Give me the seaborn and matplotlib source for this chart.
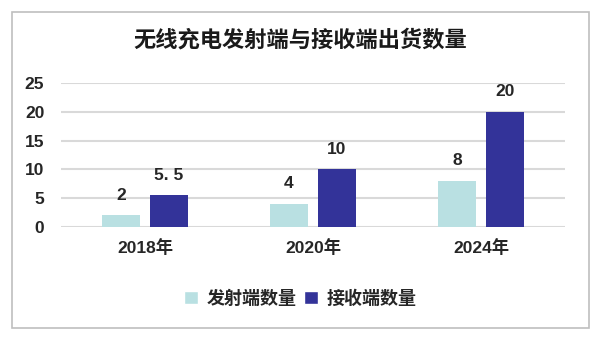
import matplotlib
matplotlib.use("Agg")
import matplotlib.pyplot as plt
import seaborn as sns
import pandas as pd
from matplotlib.patches import Rectangle, Patch

years = ["2018年", "2020年", "2024年"]
series = ["发射端数量", "接收端数量"]
transmit = [2, 4, 8]
receive = [5.5, 10, 20]
labels_t = ["2", "4", "8"]
labels_r = ["5. 5", "10", "20"]
colors = ["#b9e0e2", "#333399"]

df = pd.DataFrame({
    "year": years * 2,
    "series": [series[0]] * 3 + [series[1]] * 3,
    "value": transmit + receive,
})

sns.set_theme(style="white")
plt.rcParams['font.family'] = ['Noto Sans CJK SC', 'DejaVu Sans']

fig = plt.figure(figsize=(6.01, 3.40), dpi=100)
fig.patches.append(Rectangle((12/601, 12/340), 577/601, 316/340, transform=fig.transFigure,
                             fill=False, edgecolor="#bfbfbf", linewidth=1.2))
ax = fig.add_axes([61/601, 1-227/340, 504/601, 144/340])

sns.barplot(data=df, x="year", y="value", hue="series", palette=colors,
            width=0.57, gap=0.2, ax=ax, legend=False, saturation=1, linewidth=0)

ax.set_ylim(0, 25)
ax.set_xlim(-0.5, 2.5)
ax.set_yticks([0, 5, 10, 15, 20, 25])
ax.yaxis.grid(True, color="#d9d9d9", linewidth=1.5)
ax.set_axisbelow(True)
for s in ax.spines.values():
    s.set_visible(False)
ax.set_xlabel("")
ax.set_ylabel("")
ax.tick_params(axis="y", length=0, pad=12, labelsize=12.5)
ax.tick_params(axis="x", length=0, pad=9, labelsize=12.5)
for lab in ax.get_yticklabels():
    lab.set_fontfamily(['Liberation Sans', 'DejaVu Sans'])
    lab.set_fontweight("bold")
for lab in ax.get_xticklabels():
    lab.set_fontfamily(['Liberation Sans', 'Noto Sans CJK SC'])
    lab.set_fontweight("bold")

containers = ax.containers
for cont, labs in zip(containers, [labels_t, labels_r]):
    ax.bar_label(cont, labels=labs, padding=9, fontsize=12.5, fontweight="bold",
                 fontfamily=['Liberation Sans', 'DejaVu Sans'])

fig.text(0.5, 1-40/340, "无线充电发射端与接收端出货数量", ha="center", va="center",
         fontsize=16, fontweight="bold", color="#1a1a1a")

handles = [Patch(facecolor=colors[0], label=series[0]), Patch(facecolor=colors[1], label=series[1])]
fig.legend(handles=handles, loc="center", bbox_to_anchor=(0.5, 1-298/340), ncol=2,
           frameon=False, prop={"weight": "bold", "size": 13}, handlelength=0.75,
           handleheight=0.75, handletextpad=0.5, columnspacing=0.4)

fig.savefig("out.png", dpi=100)
